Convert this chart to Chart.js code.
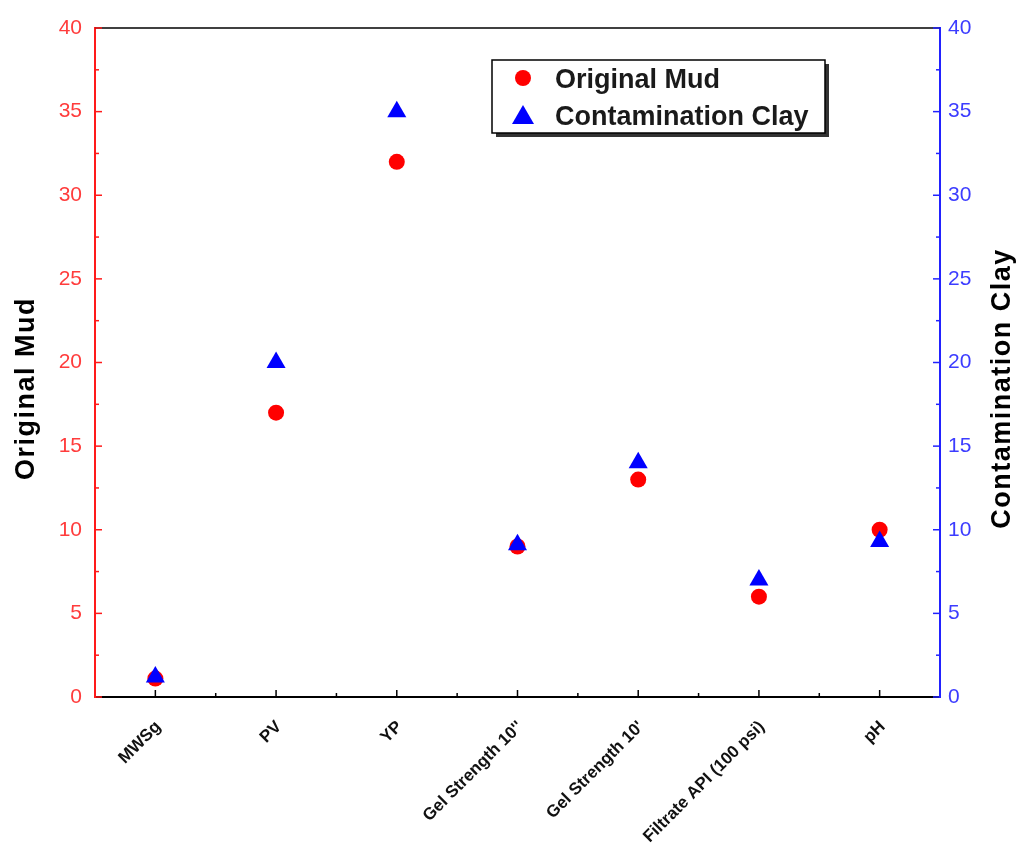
<!DOCTYPE html>
<html>
<head>
<meta charset="utf-8">
<script src="https://cdn.jsdelivr.net/npm/chart.js@4.4.1/dist/chart.umd.min.js"></script>
<style>
  html, body { margin: 0; padding: 0; background: #fff; }
  #wrap { width: 1021px; height: 843px; }
</style>
</head>
<body>
<div id="wrap"><canvas id="chart" width="1021" height="843"></canvas></div>
<script>
// Categories and values
const categories = ['MWSg', 'PV', 'YP', "Gel Strength 10''", "Gel Strength 10'", 'Filtrate API (100 psi)', 'pH'];
const originalMud = [1.1, 17, 32, 9, 13, 6, 10];
const contaminationClay = [1.2, 20, 35, 9.1, 14, 7, 9.3];
const yTicks = [0, 5, 10, 15, 20, 25, 30, 35, 40];
const leftTitle = 'Original Mud';
const rightTitle = 'Contamination Clay';

const RED = '#ff1a1a';
const RED_TEXT = '#ff3c3c';
const BLUE = '#2222ff';
const BLUE_TEXT = '#3c3cff';
const FONT = '"Liberation Sans", Arial, sans-serif';

function drawRotatedTitle(ctx, text, x, y) {
    ctx.save();
    ctx.fillStyle = '#000';
    ctx.font = 'bold 27px ' + FONT;
    ctx.letterSpacing = '1.5px';
    ctx.textAlign = 'center';
    ctx.textBaseline = 'middle';
    ctx.translate(x, y);
    ctx.rotate(-Math.PI / 2);
    ctx.fillText(text, 0, 0);
    ctx.restore();
}

// inward tick marks, top frame line, axis titles and boxed legend
const decorPlugin = {
    id: 'decor',
    afterDraw(chart) {
        const ctx = chart.ctx;
        const area = chart.chartArea;
        const x = chart.scales.x, yl = chart.scales.y, yr = chart.scales.y1;
        ctx.save();

        // top frame
        ctx.strokeStyle = '#000';
        ctx.lineWidth = 1.5;
        ctx.beginPath();
        ctx.moveTo(area.left, area.top);
        ctx.lineTo(area.right, area.top);
        ctx.stroke();

        // y ticks (major every 5, minor every 2.5)
        for (let v = yTicks[0]; v <= yTicks[yTicks.length - 1]; v += 2.5) {
            const len = v % 5 === 0 ? 7 : 4;
            const pl = yl.getPixelForValue(v);
            ctx.strokeStyle = RED;
            ctx.beginPath();
            ctx.moveTo(area.left, pl);
            ctx.lineTo(area.left + len, pl);
            ctx.stroke();
            const pr = yr.getPixelForValue(v);
            ctx.strokeStyle = BLUE;
            ctx.beginPath();
            ctx.moveTo(area.right, pr);
            ctx.lineTo(area.right - len, pr);
            ctx.stroke();
        }

        // x ticks: major at categories, minor between them
        ctx.strokeStyle = '#000';
        for (let i = 0; i < categories.length; i++) {
            const px = x.getPixelForValue(i);
            ctx.beginPath();
            ctx.moveTo(px, area.bottom);
            ctx.lineTo(px, area.bottom - 7);
            ctx.stroke();
            if (i < categories.length - 1) {
                const mx = (px + x.getPixelForValue(i + 1)) / 2;
                ctx.beginPath();
                ctx.moveTo(mx, area.bottom);
                ctx.lineTo(mx, area.bottom - 4);
                ctx.stroke();
            }
        }

        // axis titles, both reading bottom to top
        const midY = (area.top + area.bottom) / 2 + 26;
        drawRotatedTitle(ctx, leftTitle, 27, midY);
        drawRotatedTitle(ctx, rightTitle, 1003, midY);

        // legend box
        const bx = 492, by = 60, bw = 333, bh = 73;
        ctx.fillStyle = '#333';
        ctx.fillRect(bx + 4, by + 4, bw, bh);
        ctx.fillStyle = '#fff';
        ctx.fillRect(bx, by, bw, bh);
        ctx.strokeStyle = '#000';
        ctx.lineWidth = 1.5;
        ctx.strokeRect(bx, by, bw, bh);

        const sets = chart.data.datasets;
        ctx.font = 'bold 27px ' + FONT;
        ctx.textAlign = 'left';
        ctx.textBaseline = 'alphabetic';
        sets.forEach((ds, k) => {
            const cy = by + 18 + k * 37;
            const cx = bx + 31;
            ctx.fillStyle = ds.backgroundColor;
            ctx.beginPath();
            if (ds.pointStyle === 'triangle') {
                ctx.moveTo(cx, cy - 10);
                ctx.lineTo(cx + 11, cy + 9);
                ctx.lineTo(cx - 11, cy + 9);
                ctx.closePath();
            } else {
                ctx.arc(cx, cy, 8, 0, Math.PI * 2);
            }
            ctx.fill();
            ctx.fillStyle = '#1a1a1a';
            ctx.fillText(ds.label, bx + 63, cy + 10);
        });

        ctx.restore();
    }
};

new Chart(document.getElementById('chart'), {
    type: 'line',
    data: {
        labels: categories,
        datasets: [
            {
                label: leftTitle,
                data: originalMud,
                yAxisID: 'y',
                showLine: false,
                pointStyle: 'circle',
                pointRadius: 8,
                pointHoverRadius: 8,
                backgroundColor: '#ff0000',
                borderColor: '#ff0000',
                borderWidth: 0,
                order: 2
            },
            {
                label: rightTitle,
                data: contaminationClay,
                yAxisID: 'y1',
                showLine: false,
                pointStyle: 'triangle',
                pointRadius: 11,
                pointHoverRadius: 11,
                backgroundColor: '#0000ff',
                borderColor: '#0000ff',
                borderWidth: 0,
                order: 1
            }
        ]
    },
    options: {
        responsive: false,
        animation: false,
        events: [],
        layout: { padding: { top: 28, left: 0, right: 0, bottom: 0 } },
        plugins: {
            legend: { display: false },
            tooltip: { enabled: false }
        },
        scales: {
            x: {
                type: 'category',
                offset: true,
                grid: { display: true, drawOnChartArea: false, drawTicks: false },
                border: { color: '#000', width: 2 },
                ticks: {
                    color: '#111',
                    font: { family: FONT, size: 17, weight: 'bold' },
                    minRotation: 45,
                    maxRotation: 45,
                    autoSkip: false,
                    padding: 20,
                    labelOffset: 3
                },
                afterFit(scale) { scale.height = 146; }
            },
            y: {
                position: 'left',
                min: 0,
                max: 40,
                afterBuildTicks(scale) { scale.ticks = yTicks.map(v => ({ value: v })); },
                grid: { display: true, drawOnChartArea: false, drawTicks: false },
                border: { color: RED, width: 2 },
                ticks: {
                    color: RED_TEXT,
                    font: { family: FONT, size: 21 },
                    padding: 13
                },
                afterFit(scale) { scale.width = 95; }
            },
            y1: {
                position: 'right',
                min: 0,
                max: 40,
                afterBuildTicks(scale) { scale.ticks = yTicks.map(v => ({ value: v })); },
                grid: { display: true, drawOnChartArea: false, drawTicks: false },
                border: { color: BLUE, width: 2 },
                ticks: {
                    color: BLUE_TEXT,
                    font: { family: FONT, size: 21 },
                    padding: 8
                },
                afterFit(scale) { scale.width = 81; }
            }
        }
    },
    plugins: [decorPlugin]
});
</script>
</body>
</html>
